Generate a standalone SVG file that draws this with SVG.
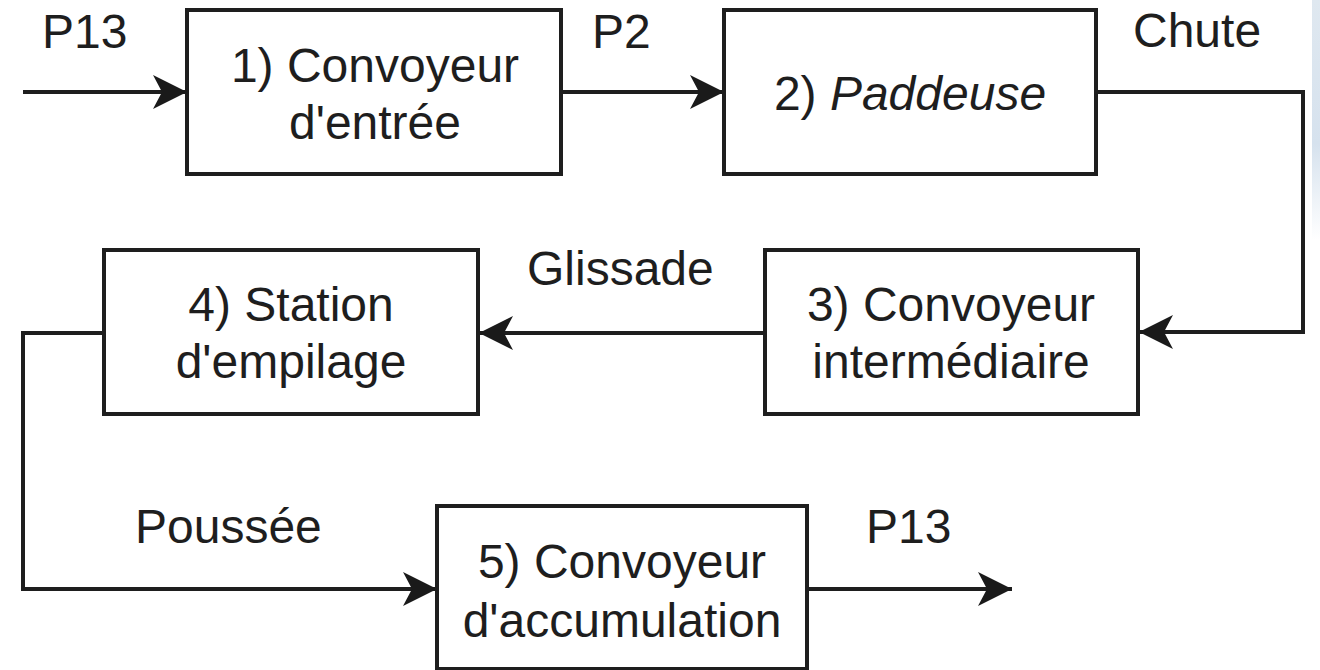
<svg xmlns="http://www.w3.org/2000/svg" width="1320" height="670" viewBox="0 0 1320 670">
  <style>
    .box { fill: #ffffff; stroke: #1e1e1e; stroke-width: 4; }
    .lbl { font-family: "Liberation Sans", Arial, sans-serif; font-size: 48px; fill: #1e1e1e; }
    .mid { text-anchor: middle; }
    .wire { fill: none; stroke: #1e1e1e; stroke-width: 4; }
  </style>
  <defs>
    <marker id="arr" markerUnits="userSpaceOnUse" viewBox="-36 -19 38 38" markerWidth="38" markerHeight="38" refX="0" refY="0" orient="auto">
      <path d="M0,0 L-34,-17 L-25,0 L-34,17 Z" fill="#1a1a1a"/>
    </marker>
    <linearGradient id="edge" x1="0" y1="0" x2="0" y2="1">
      <stop offset="0" stop-color="#dfe8f0"/>
      <stop offset="0.6" stop-color="#d6e2ee"/>
      <stop offset="1" stop-color="#ffffff"/>
    </linearGradient>
  </defs>
  <rect x="0" y="0" width="1320" height="670" fill="#ffffff"/>
  <rect x="1312" y="0" width="8" height="240" fill="url(#edge)"/>

  <g id="connectors">
    <path class="wire" d="M23,92 H187" marker-end="url(#arr)"/>
    <path class="wire" d="M561,92 H724" marker-end="url(#arr)"/>
    <path class="wire" d="M1096,92 H1303 V332 H1139" marker-end="url(#arr)"/>
    <path class="wire" d="M765,333 H479" marker-end="url(#arr)"/>
    <path class="wire" d="M104,333 H23 V589 H437" marker-end="url(#arr)"/>
    <path class="wire" d="M807,589 H1012" marker-end="url(#arr)"/>
  </g>

  <g id="edge-labels">
    <text class="lbl" x="42" y="48">P13</text>
    <text class="lbl" x="592" y="48">P2</text>
    <text class="lbl" x="1133" y="47">Chute</text>
    <text class="lbl" x="527" y="285">Glissade</text>
    <text class="lbl" x="135" y="543">Poussée</text>
    <text class="lbl" x="866" y="543">P13</text>
  </g>

  <g id="node1">
    <rect class="box" x="187" y="10" width="374" height="164"/>
    <text class="lbl mid" x="375" y="82">1) Convoyeur</text>
    <text class="lbl mid" x="375" y="139">d'entrée</text>
  </g>
  <g id="node2">
    <rect class="box" x="724" y="10" width="372" height="164"/>
    <text class="lbl mid" x="910" y="110">2) <tspan font-style="italic">Paddeuse</tspan></text>
  </g>
  <g id="node3">
    <rect class="box" x="765" y="250" width="373" height="164"/>
    <text class="lbl mid" x="951" y="321">3) Convoyeur</text>
    <text class="lbl mid" x="951" y="378">intermédiaire</text>
  </g>
  <g id="node4">
    <rect class="box" x="104" y="250" width="374" height="164"/>
    <text class="lbl mid" x="291" y="321">4) Station</text>
    <text class="lbl mid" x="291" y="378">d'empilage</text>
  </g>
  <g id="node5">
    <rect class="box" x="437" y="506" width="370" height="163"/>
    <text class="lbl mid" x="622" y="578">5) Convoyeur</text>
    <text class="lbl mid" x="622" y="637">d'accumulation</text>
  </g>
</svg>
